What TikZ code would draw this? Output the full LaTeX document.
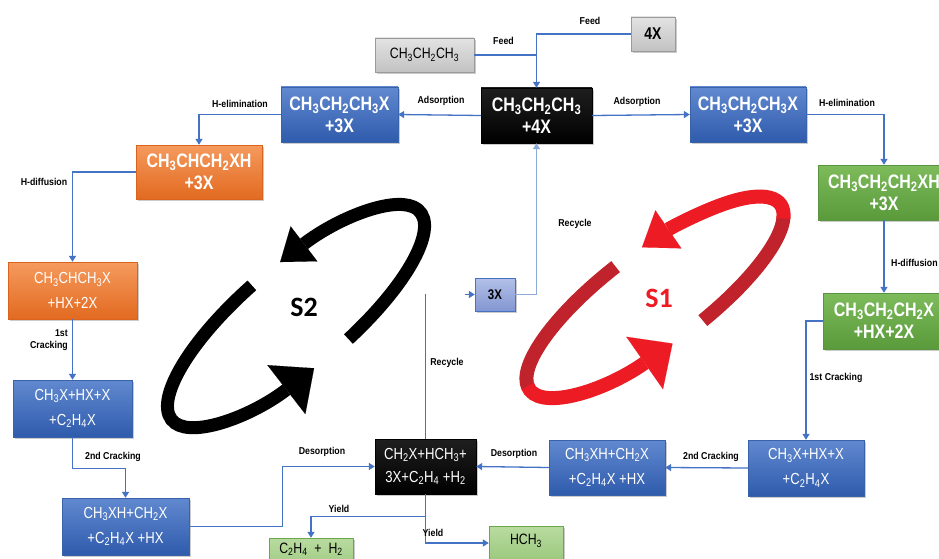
\documentclass[tikz,border=0pt]{standalone}
\usepackage{fontspec}
\setmainfont[FakeStretch=0.82]{Liberation Sans}
\newfontfamily\lblfont[FakeStretch=0.88]{Liberation Sans}
\newfontfamily\sfont{Carlito}
\usetikzlibrary{arrows.meta,shadows,calc}
\newcommand\chs[1]{\textsubscript{#1}}
\definecolor{lineblue}{HTML}{4472C4}
\definecolor{lightline}{HTML}{8EAADB}
\definecolor{blueT}{HTML}{6189D0}
\definecolor{blueB}{HTML}{2F5BAC}
\definecolor{blueD}{HTML}{3A62AB}
\definecolor{orT}{HTML}{F59A5E}
\definecolor{orB}{HTML}{E26A20}
\definecolor{orD}{HTML}{D8641E}
\definecolor{grT}{HTML}{7DBB5B}
\definecolor{grB}{HTML}{5A9A3A}
\definecolor{grD}{HTML}{5A9440}
\definecolor{gyT}{HTML}{E3E3E3}
\definecolor{gyB}{HTML}{C2C2C2}
\definecolor{gyD}{HTML}{9A9A9A}
\definecolor{lgT}{HTML}{B9DBA0}
\definecolor{lgB}{HTML}{9CC97E}
\definecolor{lgD}{HTML}{6AA84F}
\definecolor{xT}{HTML}{B2C0E8}
\definecolor{xB}{HTML}{8396D2}
\definecolor{redB}{HTML}{ED1C24}
\definecolor{redD}{HTML}{C0232B}
\begin{document}
\begin{tikzpicture}[x=1pt,y=-1pt,
  box/.style={rectangle, inner sep=1pt, align=center,
    drop shadow={shadow xshift=1.5pt,shadow yshift=-2pt,fill=black!45,opacity=.45}},
  sz/.style 2 args={minimum width=#1pt, minimum height=#2pt},
  bluebox/.style={box, top color=blueT, bottom color=blueB, draw=blueD, text=white},
  orangebox/.style={box, top color=orT, bottom color=orB, draw=orD, text=white},
  greenbox/.style={box, top color=grT, bottom color=grB, draw=grD, text=white},
  blackbox/.style={box, top color=black!88, bottom color=black, draw=black, text=white},
  graybox/.style={box, top color=gyT, bottom color=gyB, draw=gyD, text=black},
  ltgreen/.style={box, top color=lgT, bottom color=lgB, draw=lgD, text=black},
  xbox/.style={box, top color=xT, bottom color=xB, draw=lineblue, text=black},
  bigtxt/.style={font=\bfseries\fontsize{19.5}{22}\selectfont},
  smalltxt/.style={font=\fontsize{16}{25}\selectfont},
  conn/.style={draw=lineblue, line width=1.3pt, -{Triangle[width=7pt,length=6pt]}},
  plain/.style={draw=lineblue, line width=1.3pt},
  lbl/.style={font=\lblfont\bfseries\fontsize{10}{11.5}\selectfont, inner sep=0pt, text=black},
  sarrow/.style={line width=#1pt}
]
\useasboundingbox (0,0) rectangle (939,559);
\fill[white] (0,0) rectangle (939,559);

% ---- cycle arrows S2
\begin{scope}[shift={(296,316)},rotate=40]
\draw[sarrow=13, black, -{Triangle[width=44pt,length=30pt,line width=0.1pt]}]
  (81:162 and 52) arc[start angle=81,end angle=-82,x radius=162,y radius=52];
\draw[sarrow=13, black, -{Triangle[width=62pt,length=35pt,line width=0.1pt]}]
  (265:162 and 52) arc[start angle=265,end angle=97,x radius=162,y radius=52];
\end{scope}
\node[font=\sfont\bfseries\fontsize{28}{30}\selectfont] (s2) at (304,307) {S2};

% ---- cycle arrows S1
\begin{scope}[shift={(655,297)},rotate=36.5]
\draw[sarrow=14, redD]
  (81:156 and 48) arc[start angle=81,end angle=14,x radius=156,y radius=48];
\draw[sarrow=14, redB, -{Triangle[width=46pt,length=32pt,line width=0.1pt]}]
  (16:156 and 48) arc[start angle=16,end angle=-83,x radius=156,y radius=48];
\draw[sarrow=14, redD]
  (265:156 and 48) arc[start angle=265,end angle=183,x radius=156,y radius=48];
\draw[sarrow=14, redB, -{Triangle[width=64pt,length=34pt,line width=0.1pt]}]
  (185:156 and 48) arc[start angle=185,end angle=95,x radius=156,y radius=48];
\end{scope}
\node[font=\sfont\bfseries\fontsize{28}{30}\selectfont, text=redB] (s1) at (659,298) {S1};

% ---- boxes
\node[graybox, sz={99}{34}, font=\fontsize{15}{17}\selectfont] (feedA) at (424.5,55) {CH\chs3CH\chs2CH\chs3};
\node[graybox, sz={44}{34}, font=\bfseries\fontsize{17}{20}\selectfont] (feedX) at (653,34) {4X};
\node[blackbox, bigtxt, sz={111}{55}] (mid) at (536.5,115.5) {CH\chs3CH\chs2CH\chs3\\+4X};
\node[bluebox, bigtxt, sz={117}{55}] (lb) at (339.5,114.5) {CH\chs3CH\chs2CH\chs3X\\+3X};
\node[bluebox, bigtxt, sz={116}{55}] (rb) at (748,114.5) {CH\chs3CH\chs2CH\chs3X\\+3X};
\node[orangebox, bigtxt, sz={126}{54}] (o1) at (199,172) {CH\chs3CHCH\chs2XH\\+3X};
\node[greenbox, bigtxt, sz={132}{55}] (g1) at (884,192.5) {CH\chs3CH\chs2CH\chs2XH\\+3X};
\node[orangebox, smalltxt, sz={129}{57}] (o2) at (72.5,290.5) {CH\chs3CHCH\chs3X\\+HX+2X};
\node[greenbox, bigtxt, sz={122}{56}] (g2) at (884,321) {CH\chs3CH\chs2CH\chs2X\\+HX+2X};
\node[bluebox, smalltxt, sz={119}{57}] (b3) at (72.5,408.5) {CH\chs3X+HX+X\\+C\chs2H\chs4X};
\node[bluebox, smalltxt, sz={127}{57}] (b4) at (125.5,526.5) {CH\chs3XH+CH\chs2X\\+C\chs2H\chs4X +HX};
\node[blackbox, font=\fontsize{16}{23}\selectfont, sz={101}{55}] (k2) at (425.5,466.5) {CH\chs2X+HCH\chs3+\\3X+C\chs2H\chs4 +H\chs2};
\node[bluebox, smalltxt, sz={116}{55}] (b5) at (607,467.5) {CH\chs3XH+CH\chs2X\\+C\chs2H\chs4X +HX};
\node[bluebox, smalltxt, sz={116}{56}] (b6) at (806,468) {CH\chs3X+HX+X\\+C\chs2H\chs4X};
\node[xbox, sz={40}{33}, font=\bfseries\fontsize{14}{16}\selectfont] (x3) at (495,294.5) {3X};
\node[ltgreen, sz={84}{34}, text depth=14pt, font=\fontsize{15}{17}\selectfont] (c2) at (311,555) {C\chs2H\chs4 ~+~ H\chs2};
\node[ltgreen, sz={74}{34}, text depth=7pt, font=\fontsize{15}{17}\selectfont] (hc) at (526,543) {HCH\chs3};

% ---- connectors
\draw[plain] (feedA.east) -- (feedA.east -| mid.north);
\draw[conn] (feedX.west) -| (mid.north);
\draw[conn] (mid.west) -- (lb.east);
\draw[conn] (mid.east) -- (rb.west);
\draw[conn] (lb.west) -| (o1.north);
\draw[conn] (rb.east) -| (g1.north);
\draw[conn] (o1.west) -| (o2.north);
\draw[conn] (g1.south) -- (g2.north);
\draw[conn] (o2.south) -- (b3.north);
\draw[conn] (g2.west) -| (b6.north);
\draw[conn] (b3.south) -- ++(0,31) -| (b4.north);
\draw[conn] (b6.west) -- (b5.east);
\draw[conn] (b5.west) -- (k2.east);
\draw[conn] (b4.east) -- ++(93,0) |- (k2.west);
\draw[conn] (k2.south) |- (hc.west);
\coordinate (yb) at (425.5,516.5);
\draw[conn] (yb) -| (c2.north);
\coordinate (rtop) at (425.5,294);
\draw[plain] (k2.north) -- (rtop);
\coordinate (xin) at (465,294.5);
\draw[conn] (xin) -- (x3.west);
\draw[conn, draw=lightline] (x3.east) -| (mid.south);

% ---- labels
\node[lbl] (t1) at (503.5,41) {Feed};
\node[lbl] (t2) at (590,21) {Feed};
\node[lbl] (t3) at (441,101) {Adsorption};
\node[lbl] (t4) at (637,102) {Adsorption};
\node[lbl] (t5) at (240,104) {H-elimination};
\node[lbl] (t6) at (847,103) {H-elimination};
\node[lbl] (t7) at (44,182) {H-diffusion};
\node[lbl, anchor=west] (t8) at (891,263) {H-diffusion};
\node[lbl, anchor=east, align=right] (t9) at (68,340) {1st\\Cracking};
\node[lbl] (t10) at (836,378) {1st Cracking};
\node[lbl] (t11) at (113,457) {2nd Cracking};
\node[lbl] (t12) at (711,457) {2nd Cracking};
\node[lbl] (t13) at (322,452) {Desorption};
\node[lbl] (t14) at (514,454) {Desorption};
\node[lbl] (t15) at (339,509) {Yield};
\node[lbl] (t16) at (433,533) {Yield};
\node[lbl] (t17) at (447,363) {Recycle};
\node[lbl] (t18) at (575,224) {Recycle};
\end{tikzpicture}
\end{document}
